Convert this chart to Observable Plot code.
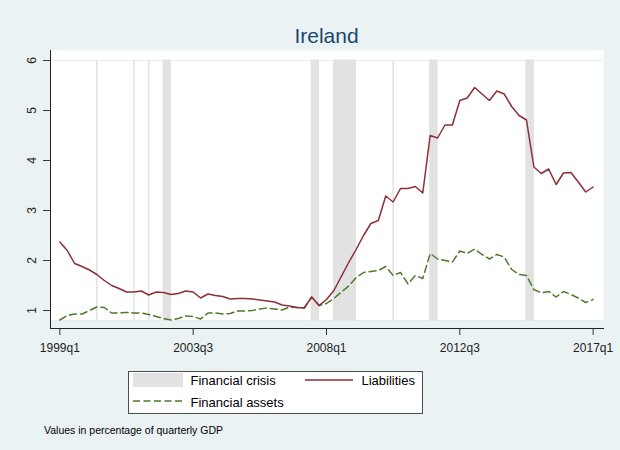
<!DOCTYPE html>
<html><head><meta charset="utf-8">
<script src="https://cdn.jsdelivr.net/npm/d3@7"></script>
<script src="https://cdn.jsdelivr.net/npm/@observablehq/plot@0.6"></script>
<style>
html,body{margin:0;padding:0;background:#eaf2f3;}
#fig{position:relative;width:620px;height:450px;background:#eaf2f3;font-family:"Liberation Sans",Arial,sans-serif;overflow:hidden}
#title{position:absolute;left:50px;width:553px;top:24px;text-align:center;font-size:21px;color:#1a476f;line-height:24px;white-space:nowrap}
#chart{position:absolute;left:0;top:40px}
#legend{position:absolute;left:0;top:0}
#caption{position:absolute;left:44px;top:423.5px;font-size:10.5px;line-height:12px;color:#000;white-space:nowrap}
</style></head>
<body>
<div id="fig">
  <div id="title">Ireland</div>
  <div id="chart"></div>
  <svg id="legend" width="620" height="450"></svg>
  <div id="caption">Values in percentage of quarterly GDP</div>
</div>
<script>
// ---- data ----
const startQuarter = "1999q1";
const liabilities = [
  2.37, 2.20, 1.94, 1.88, 1.81, 1.72, 1.60, 1.50, 1.44, 1.37,
  1.37, 1.39, 1.31, 1.37, 1.36, 1.32, 1.34, 1.39, 1.37, 1.25,
  1.33, 1.30, 1.28, 1.23, 1.24, 1.24, 1.23, 1.21, 1.19, 1.17,
  1.11, 1.09, 1.06, 1.05, 1.27, 1.10, 1.22, 1.40, 1.68, 1.96,
  2.22, 2.50, 2.74, 2.80, 3.29, 3.17, 3.44, 3.44, 3.48, 3.35,
  4.50, 4.45, 4.71, 4.71, 5.20, 5.25, 5.46, 5.33, 5.20, 5.39,
  5.33, 5.08, 4.90, 4.81, 3.87, 3.74, 3.83, 3.52, 3.75, 3.76,
  3.57, 3.37, 3.47
];
const financialAssets = [
  0.81, 0.90, 0.93, 0.93, 1.00, 1.07, 1.06, 0.95, 0.95, 0.96,
  0.95, 0.95, 0.92, 0.88, 0.84, 0.81, 0.84, 0.89, 0.88, 0.83,
  0.95, 0.95, 0.93, 0.94, 0.99, 0.99, 1.00, 1.03, 1.05, 1.03,
  1.01, 1.07, 1.06, 1.05, 1.27, 1.10, 1.14, 1.24, 1.37, 1.49,
  1.66, 1.76, 1.78, 1.80, 1.88, 1.70, 1.76, 1.53, 1.70, 1.64,
  2.14, 2.03, 2.00, 1.97, 2.19, 2.14, 2.23, 2.12, 2.03, 2.12,
  2.07, 1.82, 1.72, 1.70, 1.42, 1.35, 1.38, 1.27, 1.38, 1.32,
  1.25, 1.16, 1.22
];
const crisisStart = ["2000q2", "2001q3", "2002q1", "2002q3", "2007q3", "2008q2", "2010q2", "2011q3", "2014q4"];
const crisisEnd   = ["2000q2", "2001q3", "2002q1", "2002q4", "2007q4", "2009q1", "2010q2", "2011q4", "2015q1"];
const xTickLabels = ["1999q1", "2003q3", "2008q1", "2012q3", "2017q1"];
const yTicks = [1, 2, 3, 4, 5, 6];
const crisisTop = 6, crisisBase = 0.8;
const seriesNames = ["Financial crisis", "Liabilities", "Financial assets"];

// ---- helpers ----
const q0 = [+startQuarter.slice(0, 4), +startQuarter.slice(5)];
const qIndex = q => (+q.slice(0, 4) - q0[0]) * 4 + (+q.slice(5) - q0[1]);
const qLabel = i => { const t = i + (q0[1] - 1); return (q0[0] + Math.floor(t / 4)) + "q" + (t % 4 + 1); };
const rows = liabilities.map((v, i) => ({i, q: qLabel(i), liab: v, assets: financialAssets[i]}));
const crisis = crisisStart.map((s, k) => ({x1: qIndex(s), x2: qIndex(crisisEnd[k]), y1: crisisBase, y2: crisisTop}));
const crisisWide = crisis.filter(d => d.x2 > d.x1);
const crisisThin = crisis.filter(d => d.x2 === d.x1);

const RED = "#8e2e37", GREEN = "#4e7a2a", GRAY = "#e2e2e2";

const plot = Plot.plot({
  width: 620, height: 320,
  marginLeft: 50, marginRight: 17, marginTop: 10, marginBottom: 32,
  x: {domain: [-1.26, 73.4]},
  y: {domain: [0.64, 6.2]},
  style: {fontFamily: "'Liberation Sans', Arial, sans-serif", fontSize: "12px", background: "transparent", color: "#222", overflow: "visible"},
  marks: [
    Plot.frame({fill: "#ffffff", stroke: "none", insetBottom: 8}),
    Plot.ruleY([crisisTop, crisisBase], {stroke: "#e6edf0", strokeWidth: 1}),
    Plot.rect(crisisWide, {x1: "x1", x2: "x2", y1: "y1", y2: "y2", fill: GRAY, stroke: GRAY, strokeWidth: 1}),
    Plot.ruleX(crisisThin, {x: "x1", y1: "y1", y2: "y2", stroke: GRAY, strokeWidth: 1.5}),
    Plot.line(rows, {x: "i", y: "assets", stroke: GREEN, strokeWidth: 1.5, strokeDasharray: "7,4"}),
    Plot.line(rows, {x: "i", y: "liab", stroke: RED, strokeWidth: 1.5}),
    Plot.frame({anchor: "left", stroke: "#222"}),
    Plot.frame({anchor: "bottom", stroke: "#222"}),
    Plot.axisX({ticks: xTickLabels.map(qIndex), tickFormat: qLabel, tickSize: 7, tickPadding: 8, stroke: "#333", fontSize: 12}),
    Plot.axisY({ticks: yTicks, tickFormat: d => String(d), tickSize: 7, tickPadding: 8, tickRotate: -90, stroke: "#333", fontSize: 12})
  ]
});
document.getElementById("chart").appendChild(plot);

// ---- legend ----
const lg = d3.select("#legend");
lg.append("rect").attr("x", 128.5).attr("y", 371.5).attr("width", 294).attr("height", 42)
  .attr("fill", "#fff").attr("stroke", "#4d4d4d").attr("stroke-width", 1);
lg.append("rect").attr("x", 133).attr("y", 373).attr("width", 50).attr("height", 14).attr("fill", GRAY);
lg.append("line").attr("x1", 305).attr("x2", 353).attr("y1", 380).attr("y2", 380).attr("stroke", RED).attr("stroke-width", 1.5);
lg.append("line").attr("x1", 133).attr("x2", 183).attr("y1", 401).attr("y2", 401).attr("stroke", GREEN).attr("stroke-width", 1.5).attr("stroke-dasharray", "7,3.5");
const txt = (x, y, s) => lg.append("text").attr("x", x).attr("y", y).text(s)
  .attr("font-family", "'Liberation Sans', Arial, sans-serif").attr("font-size", 13).attr("fill", "#000");
txt(190.5, 384.5, seriesNames[0]);
txt(361.5, 384.5, seriesNames[1]);
txt(190.5, 406.5, seriesNames[2]);
</script>
</body></html>
